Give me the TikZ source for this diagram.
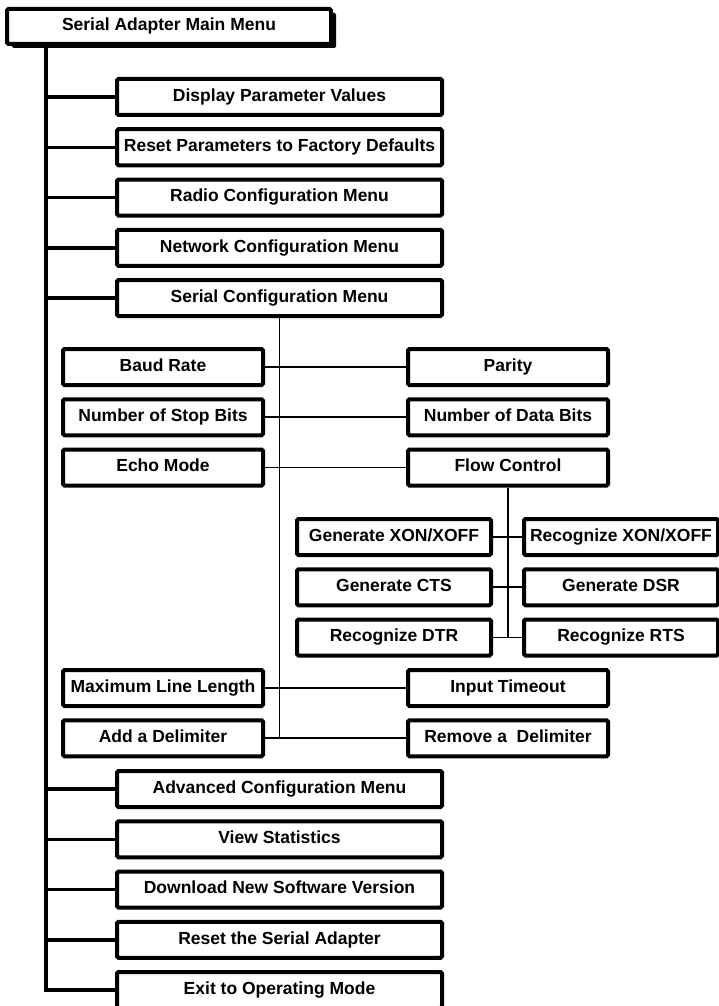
\documentclass[tikz,border=0pt]{standalone}
\usepackage{fontspec}
\setmainfont{Liberation Sans}
\usetikzlibrary{shadows}
\begin{document}
\begin{tikzpicture}[x=1pt,y=-1pt,
  menubox/.style={draw, line width=4pt, rounded corners=1.5pt, fill=white,
    inner sep=0pt, font=\bfseries\fontsize{17.5}{20}\selectfont,
    text height=12.6pt, text depth=3.7pt, minimum height=36pt},
  mainitem/.style={menubox, minimum width=325pt},
  subitem/.style={menubox, minimum width=200pt},
  flowitem/.style={menubox, minimum width=194pt},
  trunk/.style={line width=4pt, line join=miter},
  branch/.style={line width=3.5pt},
  link/.style={line width=1.6pt}]
\useasboundingbox (0,0) rectangle (718,1006);

% root menu
\node[menubox, minimum width=324pt, minimum height=35pt,
  drop shadow={shadow xshift=5pt, shadow yshift=-4pt, fill=black, opacity=1}]
  (main) at (169,26.5) {Serial Adapter Main Menu};

% first-level entries
\node[mainitem] (disp)   at (279.5,97)     {Display Parameter Values};
\node[mainitem] (defs)   at (279.5,147.25) {Reset Parameters to Factory Defaults};
\node[mainitem] (radio)  at (279.5,197.5)  {Radio Configuration Menu};
\node[mainitem] (net)    at (279.5,247.75) {Network Configuration Menu};
\node[mainitem] (serial) at (279.5,298)    {Serial Configuration Menu};
\node[mainitem] (adv)    at (279.5,789)    {Advanced Configuration Menu};
\node[mainitem] (stats)  at (279.5,839.25) {View Statistics};
\node[mainitem] (dl)     at (279.5,889.5)  {Download New Software Version};
\node[mainitem] (rst)    at (279.5,939.75) {Reset the Serial Adapter};
\node[mainitem] (exit)   at (279.5,990)    {Exit to Operating Mode};

% serial configuration entries
\node[subitem] (baud)    at (163,367)    {Baud Rate};
\node[subitem] (parity)  at (508,367)    {Parity};
\node[subitem] (stop)    at (163,417.25) {Number of Stop Bits};
\node[subitem] (data)    at (508,417.25) {Number of Data Bits};
\node[subitem] (echo)    at (163,467.5)  {Echo Mode};
\node[subitem] (flow)    at (508,467.5)  {Flow Control};
\node[subitem] (maxlen)  at (163,688)    {Maximum Line Length};
\node[subitem] (timeout) at (508,688)    {Input Timeout};
\node[subitem] (adddel)  at (163,738.25) {Add a Delimiter};
\node[subitem] (remdel)  at (508,738.25) {Remove a\ \ Delimiter};

% flow control entries
\node[flowitem] (genxon) at (394,537)    {Generate XON/XOFF};
\node[flowitem] (recxon) at (621,537)    {Recognize XON/XOFF};
\node[flowitem] (gencts) at (394,587.25) {Generate CTS};
\node[flowitem] (gendsr) at (621,587.25) {Generate DSR};
\node[flowitem] (recdtr) at (394,637.5)  {Recognize DTR};
\node[flowitem] (recrts) at (621,637.5)  {Recognize RTS};

% main trunk
\coordinate (trunkend) at (46,990);
\draw[trunk] (trunkend |- main.south) -- (trunkend) -- (exit.west);
\foreach \n in {disp,defs,radio,net,serial,adv,stats,dl,rst}
  \draw[branch] (trunkend |- \n.west) -- (\n.west);

% serial configuration spine
\draw[link] (serial.south) -- (serial.south |- remdel.west);
\draw[link] (baud.east) -- (parity.west);
\draw[link] (stop.east) -- (data.west);
\draw[link] (echo.east) -- (flow.west);
\draw[link] (maxlen.east) -- (timeout.west);
\draw[link] (adddel.east) -- (remdel.west);

% flow control spine
\draw[link] (flow.south) -- (flow.south |- recdtr.east);
\draw[link] (genxon.east) -- (recxon.west);
\draw[link] (gencts.east) -- (gendsr.west);
\draw[link] (recdtr.east) -- (recrts.west);
\end{tikzpicture}
\end{document}
